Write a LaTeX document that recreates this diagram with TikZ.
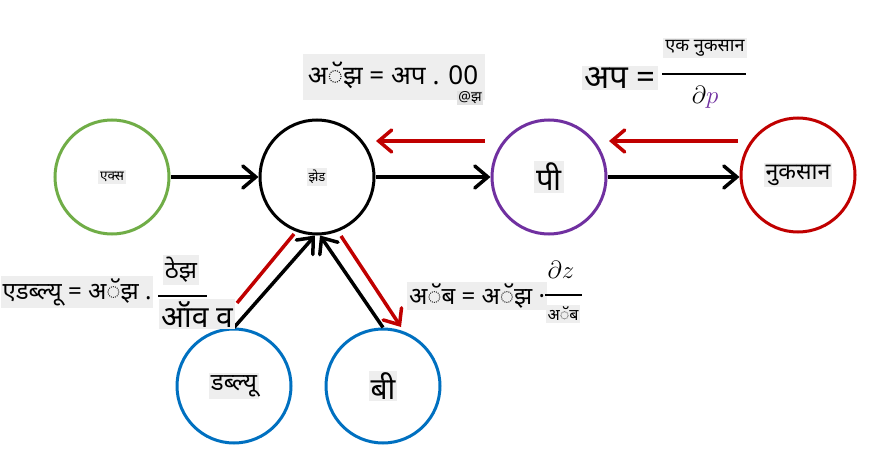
\documentclass[tikz,border=0pt]{standalone}
\usepackage{fontspec}
\newfontfamily\deva[Script=Devanagari]{Noto Sans}
\usetikzlibrary{arrows.meta}
\definecolor{xgreen}{HTML}{70AD47}
\definecolor{pviolet}{HTML}{7030A0}
\definecolor{lred}{HTML}{C00000}
\definecolor{wblue}{HTML}{0070C0}
\definecolor{gbg}{HTML}{EEEEEE}
\definecolor{gsub}{HTML}{E2E2E2}
\tikzset{
  unit/.style={circle, draw, line width=3pt, minimum size=114pt, inner sep=0pt},
  lbl/.style={fill=gbg, inner sep=2pt, font=\deva\fontsize{#1}{#1}\selectfont},
  fwd/.style={line width=3.5pt, -{Straight Barb[length=13pt,width=22pt,line cap=round]}},
  grad/.style={fwd, lred},
  gradline/.style={line width=3.5pt, lred},
  bar/.style={line width=1.5pt}
}
\begin{document}
\begin{tikzpicture}[x=1pt,y=-1pt]
\useasboundingbox (0,0) rectangle (872,476);

% units of the graph
\node[unit, xgreen] (x) at (112,177) {};
\node[unit, black] (z) at (317,177) {};
\node[unit, pviolet] (p) at (549,177) {};
\node[unit, lred] (loss) at (798,175) {};
\node[unit, wblue] (w) at (234,386) {};
\node[unit, wblue] (b) at (383,386) {};

\node[lbl=13.5] (xl) at (x) {एक्स};
\node[lbl=13] (zl) at (z) {झेड};
\node[lbl=31] (pl) at (p) {पी};
\node[lbl=23] (lossl) at (loss) {नुकसान};
\node[lbl=24] (wl) at (w) {डब्ल्यू};
\node[lbl=30] (bl) at (b) {बी};

% forward pass
\draw[fwd] (x.east) -- (z.west);
\draw[fwd] (z.east) -- (p.west);
\draw[fwd] (p.east) -- (loss.west |- p.east);
\draw[fwd] (w.north) -- ([xshift=-2pt]z.south);
\draw[fwd] (b.north) -- ([xshift=3pt]z.south);

% backward pass
\coordinate (g1s) at (485,141);
\coordinate (g1e) at (376,141);
\coordinate (g2s) at (738,141);
\coordinate (g2e) at (609,141);
\coordinate (g3s) at (294,234);
\coordinate (g3e) at (237,303);
\coordinate (g4s) at (341,236);
\coordinate (g4e) at (401,327);
\draw[grad] (g1s) -- (g1e);
\draw[grad] (g2s) -- (g2e);
\draw[gradline] (g3s) -- (g3e);
\draw[grad] (g4s) -- (g4e);

% gradient at z
\fill[gbg] (303,54) rectangle (485,100);
\node[lbl=26, fill=none, inner xsep=3pt] (eqz) at (393,75) {अॅझ = अप . 00};
\node[lbl=14, fill=gsub, inner sep=1pt] (eqzs) at (470,98) {@झ};

% gradient at p
\node[lbl=33] (eqp) at (620,78) {अप =};
\node[lbl=18] (eqpn) at (705,48) {एक नुकसान};
\coordinate (pb1) at (662,74);
\coordinate (pb2) at (746,74);
\draw[bar] (pb1) -- (pb2);
\node[font=\fontsize{27}{27}\selectfont, inner sep=1pt] (eqpd) at (705,97) {$\partial\textcolor{pviolet}{p}$};

% gradient at w
\node[lbl=24] (eqw) at (77,292) {एडब्ल्यू = अॅझ .};
\node[lbl=24] (eqwn) at (181,270) {ठेझ};
\coordinate (wb1) at (158,296);
\coordinate (wb2) at (207,296);
\draw[bar] (wb1) -- (wb2);
\node[lbl=30] (eqwd) at (197,314) {ऑव व};

% gradient at b
\node[lbl=24] (eqb) at (477,296) {अॅब = अॅझ ·};
\node[font=\fontsize{29}{29}\selectfont, inner sep=1pt] (eqbn) at (561,270) {$\partial z$};
\coordinate (bb1) at (545,295);
\coordinate (bb2) at (582,295);
\draw[bar] (bb1) -- (bb2);
\node[lbl=16] (eqbd) at (563,314) {अॅब};
\end{tikzpicture}
\end{document}
